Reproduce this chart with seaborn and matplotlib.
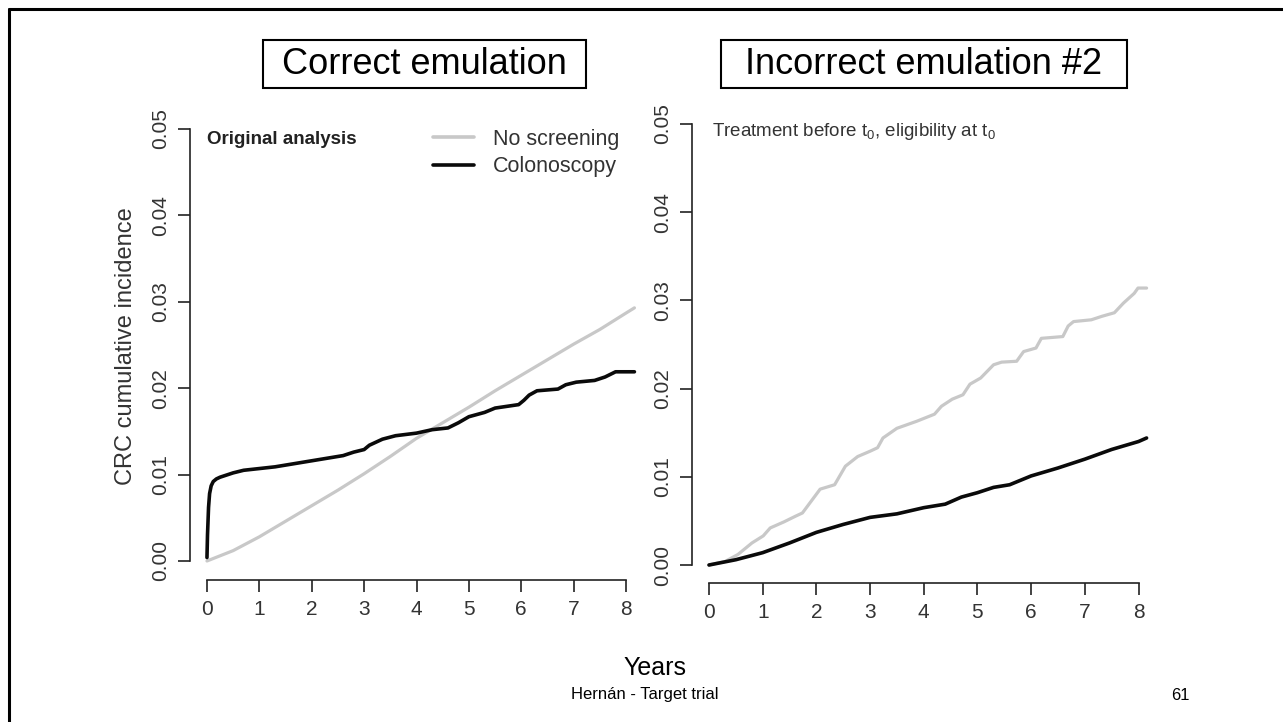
import matplotlib.pyplot as plt
import numpy as np
import pandas as pd
import seaborn as sns
from matplotlib.lines import Line2D
from matplotlib.patches import Rectangle

# Left panel: correct emulation (original analysis)
left_none_years = [0, 0.5, 1, 1.5, 2, 2.5, 3, 3.5, 4, 4.5, 5, 5.5, 6, 6.5, 7, 7.5, 8, 8.16]
left_none_cum = [0, 0.0012, 0.0028, 0.0046, 0.0064, 0.0082, 0.0101, 0.0121, 0.0142, 0.016,
                 0.0178, 0.0197, 0.0215, 0.0233, 0.0251, 0.0268, 0.0287, 0.0293]
left_colo_years = [0, 0.01, 0.03, 0.05, 0.08, 0.12, 0.18, 0.25, 0.35, 0.5, 0.7, 1.0, 1.3, 1.6,
                   2.0, 2.3, 2.6, 2.8, 3.0, 3.1, 3.35, 3.6, 4.0, 4.3, 4.6, 4.8, 5.0, 5.3, 5.5,
                   5.95, 6.05, 6.15, 6.3, 6.7, 6.85, 7.05, 7.4, 7.6, 7.8, 8.16]
left_colo_cum = [0.0004, 0.003, 0.0062, 0.0078, 0.0087, 0.0092, 0.0095, 0.0097, 0.0099, 0.0102,
                 0.0105, 0.0107, 0.0109, 0.0112, 0.0116, 0.0119, 0.0122, 0.0126, 0.0129, 0.0134,
                 0.0141, 0.0145, 0.0148, 0.0152, 0.0154, 0.016, 0.0167, 0.0172, 0.0177, 0.0181,
                 0.0186, 0.0192, 0.0197, 0.0199, 0.0204, 0.0207, 0.0209, 0.0213, 0.0219, 0.0219]

# Right panel: incorrect emulation #2
right_none_years = [0, 0.3, 0.54, 0.8, 1.01, 1.14, 1.4, 1.6, 1.74, 2.07, 2.34, 2.54, 2.77, 3.0,
                    3.14, 3.24, 3.5, 3.87, 4.2, 4.33, 4.53, 4.73, 4.86, 5.06, 5.3, 5.45, 5.73,
                    5.86, 6.09, 6.19, 6.59, 6.69, 6.79, 7.12, 7.32, 7.55, 7.72, 7.92, 7.99, 8.15]
right_none_cum = [0, 0.0004, 0.0012, 0.0025, 0.0033, 0.0042, 0.0049, 0.0055, 0.0059, 0.0086,
                  0.0091, 0.0112, 0.0123, 0.0129, 0.0133, 0.0144, 0.0155, 0.0163, 0.0171, 0.018,
                  0.0188, 0.0193, 0.0205, 0.0212, 0.0227, 0.023, 0.0231, 0.0242, 0.0246, 0.0257,
                  0.0259, 0.0271, 0.0276, 0.0278, 0.0282, 0.0286, 0.0297, 0.0308, 0.0314, 0.0314]
right_colo_years = [0, 0.5, 1.0, 1.5, 2.0, 2.5, 3.0, 3.5, 4.0, 4.4, 4.7, 5.0, 5.3, 5.6, 6.0,
                    6.5, 7.0, 7.5, 8.0, 8.15]
right_colo_cum = [0, 0.0006, 0.0014, 0.0025, 0.0037, 0.0046, 0.0054, 0.0058, 0.0065, 0.0069,
                  0.0077, 0.0082, 0.0088, 0.0091, 0.0101, 0.011, 0.012, 0.0131, 0.014, 0.0144]

series_names = ['No screening', 'Colonoscopy']
series_colors = ['#c8c8c8', '#0a0a0a']
y_ticks = [0.00, 0.01, 0.02, 0.03, 0.04, 0.05]
y_tick_labels = ['0.00', '0.01', '0.02', '0.03', '0.04', '0.05']
x_ticks = [0, 1, 2, 3, 4, 5, 6, 7, 8]

sns.set_style('ticks')
plt.rcParams['font.family'] = ['Liberation Sans', 'DejaVu Sans']
plt.rcParams['mathtext.fontset'] = 'custom'
plt.rcParams['mathtext.rm'] = 'Liberation Sans'

W, H = 1283, 722
fig = plt.figure(figsize=(W / 100, H / 100), dpi=100)


def px_axes(left, top, right, bottom):
    return fig.add_axes([left / W, 1 - bottom / H, (right - left) / W, (bottom - top) / H])


def style_axes(ax, xlim, ylim):
    ax.set_xlim(*xlim)
    ax.set_ylim(*ylim)
    ax.set_xticks(x_ticks)
    ax.set_xticklabels([str(t) for t in x_ticks])
    ax.set_yticks(y_ticks)
    ax.set_yticklabels(y_tick_labels)
    for s in ['top', 'right']:
        ax.spines[s].set_visible(False)
    ax.spines['left'].set_bounds(0, 0.05)
    ax.spines['bottom'].set_bounds(0, 8)
    for s in ['left', 'bottom']:
        ax.spines[s].set_linewidth(1.2)
        ax.spines[s].set_color('#222222')
    ax.tick_params(length=8.5, width=1.2, color='#222222', labelsize=15, labelcolor='#333333')
    ax.tick_params(axis='x', pad=6)
    ax.tick_params(axis='y', pad=6, labelrotation=90)
    for lab in ax.get_yticklabels():
        lab.set_va('center')
    ax.set_xlabel('')
    ax.set_ylabel('')
    ax.set_facecolor('none')


def draw(ax, years, cum, color, lw):
    df = pd.DataFrame({'Years': years, 'cum': cum})
    sns.lineplot(data=df, x='Years', y='cum', ax=ax, color=color, lw=lw,
                 estimator=None, sort=False, legend=False)


# Left panel
ax1 = px_axes(190, 112, 647, 580)
draw(ax1, left_none_years, left_none_cum, series_colors[0], 2.3)
draw(ax1, left_colo_years, left_colo_cum, series_colors[1], 2.6)
style_axes(ax1, (-0.324, 8.4), (-0.0022, 0.05197))
ax1.set_ylabel('CRC cumulative incidence', fontsize=17, color='#333333', labelpad=10)
ax1.text(207 / W, 1 - 139 / H, 'Original analysis', transform=fig.transFigure,
         fontsize=13.5, fontweight='bold', color='#222222', va='center', ha='left')
handles = [Line2D([], [], color=c, lw=2.6) for c in series_colors]
fig.legend(handles, series_names, loc='upper left', bbox_to_anchor=(433 / W, 1 - 129 / H),
           frameon=False, fontsize=15.5, handlelength=1.9, handletextpad=0.9,
           labelspacing=0.3, borderpad=0, borderaxespad=0, labelcolor='#333333')

# Right panel
ax2 = px_axes(692, 106, 1160, 583)
draw(ax2, right_none_years, right_none_cum, series_colors[0], 2.3)
draw(ax2, right_colo_years, right_colo_cum, series_colors[1], 2.6)
style_axes(ax2, (-0.3166, 8.4), (-0.00204, 0.05204))
fig.text(712 / W, 1 - 132 / H,
         r'Treatment before t$_\mathregular{0}$, eligibility at t$_\mathregular{0}$',
         fontsize=13.5, color='#333333', va='center', ha='left')

# Slide decorations: title boxes, shared x label, footer, border
for (x0, x1, label) in [(263, 586, 'Correct emulation'), (721, 1127, 'Incorrect emulation #2')]:
    fig.patches.append(Rectangle((x0 / W, 1 - 88 / H), (x1 - x0) / W, 48 / H,
                                 transform=fig.transFigure, fill=False, ec='black', lw=1.5))
    fig.text((x0 + x1) / 2 / W, 1 - 64 / H, label, fontsize=26, ha='center', va='center',
             color='black')

fig.text(655 / W, 1 - 668 / H, 'Years', fontsize=18, ha='center', va='center', color='black')
fig.text(645 / W, 1 - 695 / H, 'Hernán - Target trial', fontsize=12, ha='center',
         va='center', color='black')
fig.text(1180 / W, 1 - 695 / H, '61', fontsize=12, ha='center', va='center', color='black')

fig.add_artist(Line2D([9 / W, 9 / W], [0, 1 - 9 / H], transform=fig.transFigure,
                      color='black', lw=2.2))
fig.add_artist(Line2D([9 / W, 1], [1 - 9 / H, 1 - 9 / H], transform=fig.transFigure,
                      color='black', lw=2.2))

fig.savefig('out.png', dpi=100)
